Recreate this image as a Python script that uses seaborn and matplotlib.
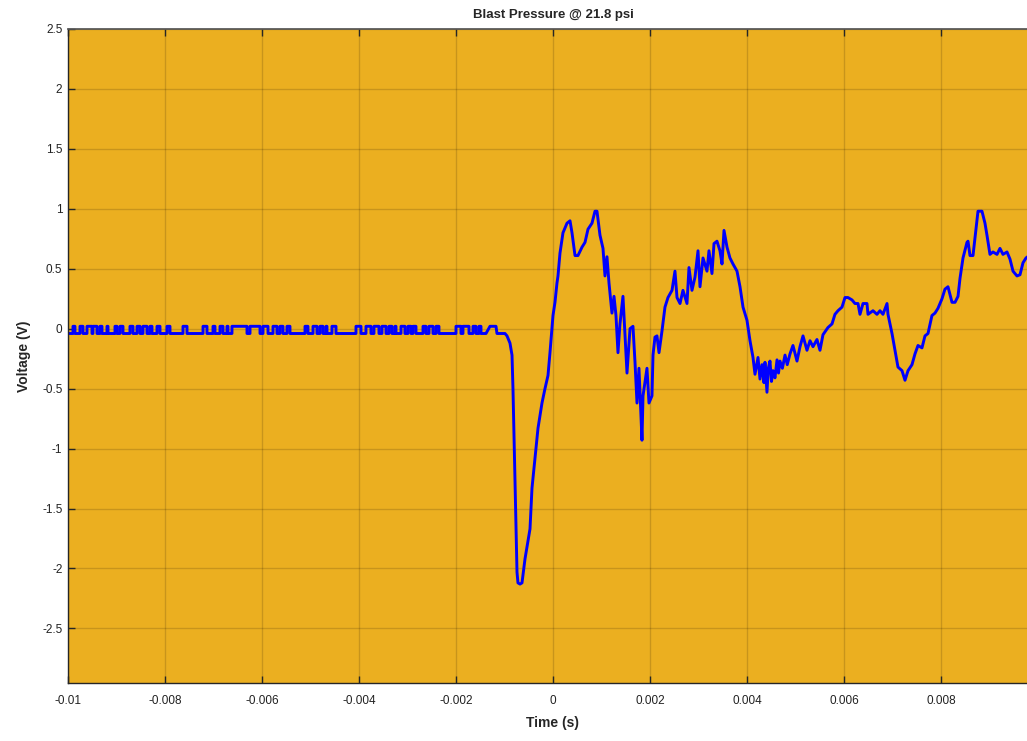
import matplotlib.pyplot as plt
import matplotlib.ticker as mticker
import numpy as np
import pandas as pd
import seaborn as sns

# baseline before the blast: quantised noise, sits at -0.04 V with short pulses to +0.02 V
base_level = -0.04
pulse_level = 0.02
pulse_on_ms = [-9.897, -9.753, -9.608, -9.485, -9.340, -9.196, -9.031, -8.928, -8.722, -8.577,
               -8.454, -8.309, -8.165, -7.959, -7.629, -7.216, -7.010, -6.866, -6.722, -6.619,
               -6.247, -5.979, -5.773, -5.629, -5.485, -5.113, -4.948, -4.804, -4.680, -4.557,
               -4.062, -3.856, -3.691, -3.526, -3.381, -3.258, -3.134, -2.990, -2.887, -2.680,
               -2.557, -2.412, -2.000, -1.856, -1.649, -1.526]
pulse_off_ms = [-9.856, -9.691, -9.505, -9.402, -9.299, -9.175, -8.990, -8.866, -8.660, -8.515,
                -8.371, -8.268, -8.103, -7.897, -7.546, -7.134, -6.969, -6.804, -6.701, -6.309,
                -6.041, -5.876, -5.691, -5.567, -5.423, -5.052, -4.866, -4.742, -4.660, -4.474,
                -3.959, -3.753, -3.588, -3.443, -3.320, -3.237, -3.052, -2.928, -2.825, -2.619,
                -2.474, -2.351, -1.897, -1.732, -1.588, -1.485]

# the blast event itself
event_ms = [-1.381, -1.299, -1.175, -1.155, -0.990, -0.948, -0.887, -0.845, -0.825, -0.742,
            -0.722, -0.680, -0.639, -0.577, -0.474, -0.433, -0.371, -0.309, -0.227, -0.165,
            -0.103, -0.062, 0.000, 0.041, 0.082, 0.103, 0.144, 0.206, 0.289, 0.351,
            0.392, 0.454, 0.515, 0.598, 0.660, 0.722, 0.804, 0.866, 0.907, 0.969,
            1.031, 1.072, 1.113, 1.155, 1.216, 1.258, 1.299, 1.340, 1.381, 1.443,
            1.485, 1.526, 1.588, 1.649, 1.691, 1.732, 1.773, 1.835, 1.856, 1.938,
            1.979, 2.041, 2.062, 2.103, 2.144, 2.186, 2.247, 2.309, 2.371, 2.454,
            2.515, 2.557, 2.619, 2.680, 2.763, 2.804, 2.866, 2.928, 2.990, 3.031,
            3.093, 3.175, 3.216, 3.278, 3.320, 3.381, 3.443, 3.485, 3.526, 3.588,
            3.649, 3.711, 3.794, 3.856, 3.918, 4.000, 4.062, 4.124, 4.165, 4.227,
            4.268, 4.309, 4.350, 4.371, 4.412, 4.440, 4.474, 4.505, 4.536, 4.577,
            4.619, 4.650, 4.680, 4.730, 4.784, 4.830, 4.887, 4.948,
            5.031, 5.093, 5.155, 5.237, 5.299, 5.361, 5.443, 5.505, 5.567, 5.670,
            5.753, 5.814, 5.876, 5.959, 6.021, 6.082, 6.165, 6.227, 6.289, 6.330,
            6.392, 6.474, 6.495, 6.598, 6.680, 6.742, 6.804, 6.887, 6.907, 6.990,
            7.052, 7.113, 7.196, 7.258, 7.320, 7.402, 7.464, 7.526, 7.608, 7.670,
            7.732, 7.814, 7.876, 7.938, 8.021, 8.082, 8.144, 8.227, 8.289, 8.351,
            8.392, 8.454, 8.536, 8.557, 8.598, 8.660, 8.722, 8.763, 8.845, 8.907,
            8.948, 9.010, 9.072, 9.155, 9.216, 9.278, 9.361, 9.423, 9.485, 9.567,
            9.629, 9.691, 9.753, 9.850]
event_v = [-0.04, 0.02, 0.02, -0.04, -0.04, -0.06, -0.12, -0.22, -0.50, -2.03,
           -2.12, -2.13, -2.12, -1.92, -1.67, -1.33, -1.08, -0.83, -0.62, -0.50,
           -0.39, -0.20, 0.11, 0.22, 0.38, 0.44, 0.63, 0.80, 0.88, 0.90,
           0.80, 0.61, 0.61, 0.68, 0.72, 0.83, 0.88, 0.98, 0.98, 0.78,
           0.67, 0.44, 0.60, 0.38, 0.13, 0.27, 0.11, -0.20, 0.04, 0.27,
           -0.06, -0.37, 0.00, 0.02, -0.28, -0.62, -0.33, -0.93, -0.56, -0.33,
           -0.62, -0.56, -0.22, -0.07, -0.06, -0.20, -0.02, 0.18, 0.26, 0.32,
           0.48, 0.26, 0.21, 0.32, 0.21, 0.51, 0.32, 0.43, 0.65, 0.35,
           0.59, 0.48, 0.65, 0.46, 0.71, 0.73, 0.65, 0.54, 0.82, 0.68,
           0.59, 0.54, 0.48, 0.35, 0.18, 0.07, -0.10, -0.24, -0.38, -0.24,
           -0.42, -0.30, -0.45, -0.28, -0.53, -0.33, -0.27, -0.44, -0.35, -0.41,
           -0.26, -0.37, -0.27, -0.33, -0.22, -0.30, -0.21, -0.14,
           -0.27, -0.15, -0.06, -0.18, -0.10, -0.15, -0.09, -0.18, -0.05, 0.01,
           0.04, 0.12, 0.15, 0.18, 0.26, 0.26, 0.24, 0.21, 0.21, 0.12,
           0.21, 0.21, 0.12, 0.15, 0.12, 0.15, 0.12, 0.21, 0.12, -0.04,
           -0.18, -0.32, -0.35, -0.43, -0.35, -0.30, -0.21, -0.14, -0.16, -0.06,
           -0.04, 0.11, 0.13, 0.17, 0.25, 0.33, 0.35, 0.22, 0.22, 0.27,
           0.42, 0.59, 0.72, 0.73, 0.61, 0.61, 0.83, 0.98, 0.98, 0.88,
           0.78, 0.62, 0.64, 0.62, 0.67, 0.62, 0.64, 0.58, 0.48, 0.44,
           0.45, 0.55, 0.59, 0.62]

x_ticks = [-0.01, -0.008, -0.006, -0.004, -0.002, 0, 0.002, 0.004, 0.006, 0.008, 0.01]
y_ticks = [-2.5, -2, -1.5, -1, -0.5, 0, 0.5, 1, 1.5, 2, 2.5]

# build the baseline as square pulses, then append the event trace
t_base = [-10.0]
v_base = [base_level]
for on, off in zip(pulse_on_ms, pulse_off_ms):
    t_base += [on, on, off, off]
    v_base += [base_level, pulse_level, pulse_level, base_level]

df = pd.DataFrame({
    'time': np.array(t_base + event_ms) / 1000.0,
    'voltage': v_base + event_v,
})

sns.set_theme(style='ticks')
plt.rcParams['font.family'] = ['Liberation Sans', 'DejaVu Sans']

fig = plt.figure(figsize=(10.27, 7.41), dpi=100, facecolor='white')
ax = fig.add_axes([0.0662, 0.0783, 0.9445, 0.8826])
ax.set_facecolor('#ebaf20')

sns.lineplot(data=df, x='time', y='voltage', sort=False, estimator=None,
             color='#0000ff', linewidth=2.1, ax=ax)

ax.set_xlim(-0.01, 0.01)
ax.set_ylim(-2.955, 2.5)
ax.set_xticks(x_ticks)
ax.set_yticks(y_ticks)
fmt = mticker.FuncFormatter(lambda v, p: '%g' % v)
ax.xaxis.set_major_formatter(fmt)
ax.yaxis.set_major_formatter(fmt)

ax.grid(True, color='black', alpha=0.15, linewidth=1.0)
ax.tick_params(direction='in', length=5, width=1.0, top=True, right=False,
               labelsize=8.5, labelcolor='#222222')
ax.tick_params(axis='x', pad=9)
ax.tick_params(axis='y', pad=4)
for side in ['left', 'bottom']:
    ax.spines[side].set_color('#262626')
    ax.spines[side].set_linewidth(1.0)
ax.spines['top'].set_color('#555555')
ax.spines['right'].set_visible(False)

ax.set_title('Blast Pressure @ 21.8 psi', fontsize=9.5, fontweight='bold', pad=8)
ax.set_xlabel('Time (s)', fontsize=10, fontweight='bold', labelpad=6)
ax.set_ylabel('Voltage (V)', fontsize=10, fontweight='bold', labelpad=8)

fig.savefig('out.png', dpi=100, facecolor='white')
